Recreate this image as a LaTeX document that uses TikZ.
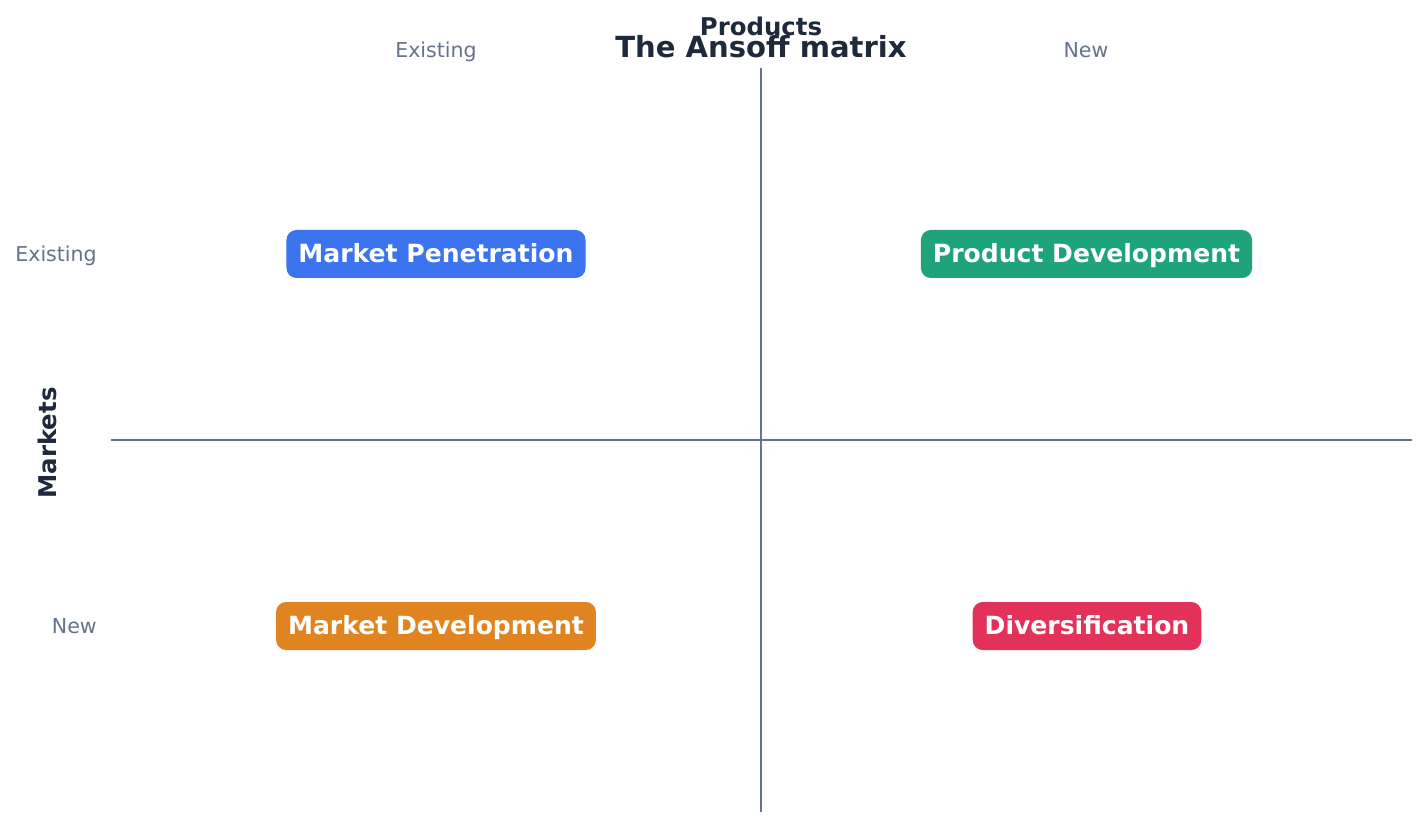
\documentclass[tikz,border=0pt]{standalone}
\usepackage{fontspec}
\setmainfont{DejaVu Sans}
\definecolor{axisgray}{HTML}{64748B}
\definecolor{darktext}{HTML}{1E293B}
\definecolor{mpblue}{HTML}{3B74EE}
\definecolor{pdgreen}{HTML}{1FA37A}
\definecolor{mdorange}{HTML}{DF8420}
\definecolor{dvred}{HTML}{E2325A}
\tikzset{
  quadbox/.style={rounded corners=7.5pt, minimum height=36pt, inner xsep=9pt, inner ysep=0pt,
    text height=15.3pt, text depth=2.7pt,
    text=white, font=\fontsize{18.8}{22}\selectfont\bfseries, anchor=center},
  ticklabel/.style={text=axisgray, font=\fontsize{15.4}{18}\selectfont, inner sep=0pt,
    text height=12.7pt, text depth=1.9pt},
  axistitle/.style={text=darktext, font=\fontsize{18.3}{21}\selectfont\bfseries, inner sep=0pt},
  axisline/.style={draw=axisgray, line width=1.5pt}
}
\begin{document}
\begin{tikzpicture}[x=0.75pt,y=-0.75pt]
\useasboundingbox[fill=white] (0,0) rectangle (1427,827);
% axes
\coordinate (vtop) at (761,68);
\coordinate (vbot) at (761,812);
\coordinate (hleft) at (111,440);
\coordinate (hright) at (1412,440);
\draw[axisline] (vtop) -- (vbot);
\draw[axisline] (hleft) -- (hright);
% titles
\node[axistitle] (products) at (761,26) {Products};
\node[text=darktext, font=\fontsize{21.8}{25}\selectfont\bfseries, inner sep=0pt] (title) at (761,47) {The Ansoff matrix};
\node[axistitle, rotate=90] (markets) at (47,443) {Markets};
% tick labels
\node[ticklabel] (pexist) at (436,50) {Existing};
\node[ticklabel] (pnew) at (1086,50) {New};
\node[ticklabel, anchor=east] (mexist) at (97,254) {Existing};
\node[ticklabel, anchor=east] (mnew) at (97,626) {New};
% quadrants
\node[quadbox, fill=mpblue] (mp) at (436,254) {Market Penetration};
\node[quadbox, fill=pdgreen] (pd) at (1086.5,254) {Product Development};
\node[quadbox, fill=mdorange] (md) at (436,626) {Market Development};
\node[quadbox, fill=dvred] (dv) at (1087,626) {Diversification};
\end{tikzpicture}
\end{document}
